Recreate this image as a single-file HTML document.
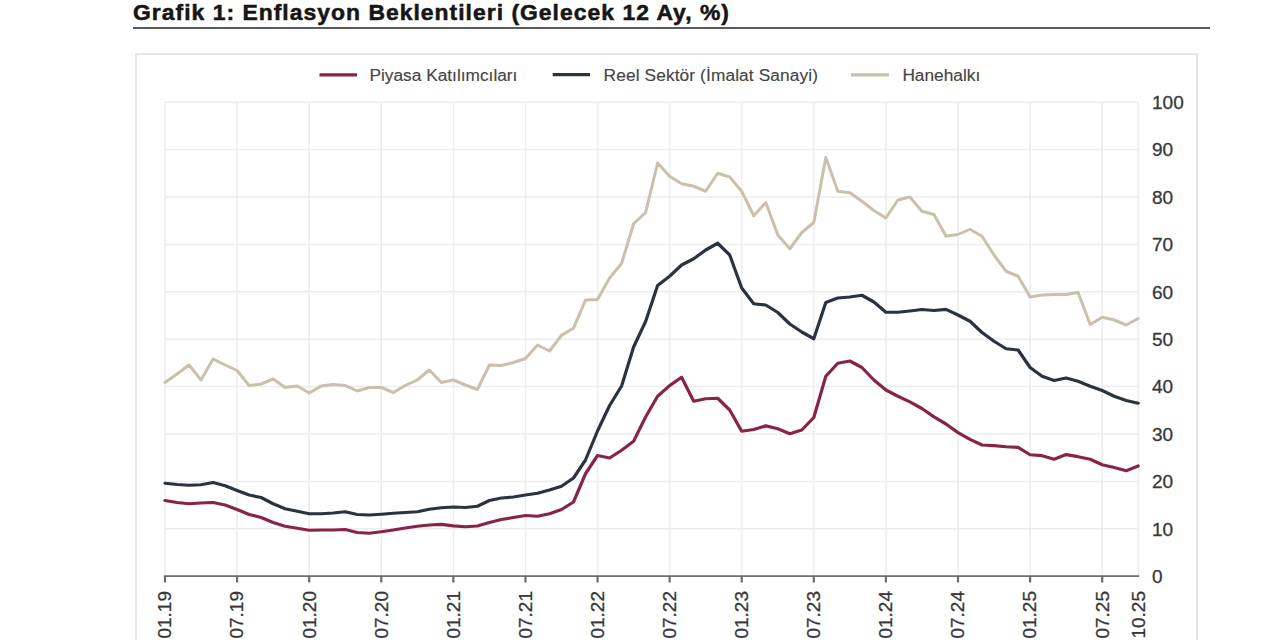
<!DOCTYPE html>
<html lang="tr"><head><meta charset="utf-8"><title>Grafik 1</title>
<style>
html,body{margin:0;padding:0;background:#fff;}
body{width:1280px;height:640px;overflow:hidden;position:relative;font-family:"Liberation Sans",Arial,sans-serif;}
.rule{position:absolute;left:133px;top:27px;width:1077px;height:2px;background:#5a5a5a;}
.box{position:absolute;left:135px;top:53px;width:1059px;height:640px;border:2px solid #e6e6e6;border-bottom:none;}
svg{position:absolute;left:0;top:0;}
.yl{font-size:19px;fill:#383838;stroke:#383838;stroke-width:0.3px;font-family:"Liberation Sans",Arial,sans-serif;}
.tt{font-size:22.9px;font-weight:bold;fill:#161616;stroke:#161616;stroke-width:0.55px;letter-spacing:1.02px;font-family:"Liberation Sans",Arial,sans-serif;}
.lg{font-size:17.3px;fill:#454545;stroke:#454545;stroke-width:0.15px;font-family:"Liberation Sans",Arial,sans-serif;}
.xl{font-size:19px;fill:#383838;stroke:#383838;stroke-width:0.3px;font-family:"Liberation Sans",Arial,sans-serif;}
</style></head><body>

<div class="rule"></div>
<div class="box"></div>

<svg width="1280" height="640" viewBox="0 0 1280 640">
<line x1="165.0" y1="528.8000000000001" x2="1138.7150000000001" y2="528.8000000000001" stroke="#ededed" stroke-width="1.5"/>
<line x1="165.0" y1="481.40000000000003" x2="1138.7150000000001" y2="481.40000000000003" stroke="#ededed" stroke-width="1.5"/>
<line x1="165.0" y1="434.0" x2="1138.7150000000001" y2="434.0" stroke="#ededed" stroke-width="1.5"/>
<line x1="165.0" y1="386.6" x2="1138.7150000000001" y2="386.6" stroke="#ededed" stroke-width="1.5"/>
<line x1="165.0" y1="339.20000000000005" x2="1138.7150000000001" y2="339.20000000000005" stroke="#ededed" stroke-width="1.5"/>
<line x1="165.0" y1="291.8" x2="1138.7150000000001" y2="291.8" stroke="#ededed" stroke-width="1.5"/>
<line x1="165.0" y1="244.40000000000003" x2="1138.7150000000001" y2="244.40000000000003" stroke="#ededed" stroke-width="1.5"/>
<line x1="165.0" y1="197.0" x2="1138.7150000000001" y2="197.0" stroke="#ededed" stroke-width="1.5"/>
<line x1="165.0" y1="149.60000000000002" x2="1138.7150000000001" y2="149.60000000000002" stroke="#ededed" stroke-width="1.5"/>
<line x1="165.0" y1="102.20000000000005" x2="1138.7150000000001" y2="102.20000000000005" stroke="#ededed" stroke-width="1.5"/>
<line x1="165.0" y1="102.20000000000005" x2="165.0" y2="576.2" stroke="#ededed" stroke-width="1.5"/>
<line x1="237.09" y1="102.20000000000005" x2="237.09" y2="576.2" stroke="#ededed" stroke-width="1.5"/>
<line x1="309.18" y1="102.20000000000005" x2="309.18" y2="576.2" stroke="#ededed" stroke-width="1.5"/>
<line x1="381.27" y1="102.20000000000005" x2="381.27" y2="576.2" stroke="#ededed" stroke-width="1.5"/>
<line x1="453.36" y1="102.20000000000005" x2="453.36" y2="576.2" stroke="#ededed" stroke-width="1.5"/>
<line x1="525.45" y1="102.20000000000005" x2="525.45" y2="576.2" stroke="#ededed" stroke-width="1.5"/>
<line x1="597.54" y1="102.20000000000005" x2="597.54" y2="576.2" stroke="#ededed" stroke-width="1.5"/>
<line x1="669.63" y1="102.20000000000005" x2="669.63" y2="576.2" stroke="#ededed" stroke-width="1.5"/>
<line x1="741.72" y1="102.20000000000005" x2="741.72" y2="576.2" stroke="#ededed" stroke-width="1.5"/>
<line x1="813.8100000000001" y1="102.20000000000005" x2="813.8100000000001" y2="576.2" stroke="#ededed" stroke-width="1.5"/>
<line x1="885.9000000000001" y1="102.20000000000005" x2="885.9000000000001" y2="576.2" stroke="#ededed" stroke-width="1.5"/>
<line x1="957.99" y1="102.20000000000005" x2="957.99" y2="576.2" stroke="#ededed" stroke-width="1.5"/>
<line x1="1030.08" y1="102.20000000000005" x2="1030.08" y2="576.2" stroke="#ededed" stroke-width="1.5"/>
<line x1="1102.17" y1="102.20000000000005" x2="1102.17" y2="576.2" stroke="#ededed" stroke-width="1.5"/>
<line x1="1138.2150000000001" y1="102.20000000000005" x2="1138.2150000000001" y2="576.2" stroke="#ededed" stroke-width="1.5"/>
<polyline points="165.0,382.50 177.0,374.00 189.0,365.00 201.0,380.00 213.1,359.00 225.1,365.00 237.1,370.50 249.1,385.50 261.1,384.00 273.1,379.00 285.1,387.50 297.2,386.00 309.2,393.00 321.2,386.00 333.2,384.50 345.2,385.50 357.2,391.00 369.3,387.50 381.3,387.50 393.3,392.50 405.3,385.50 417.3,380.00 429.3,370.00 441.3,382.50 453.4,380.00 465.4,385.00 477.4,389.50 489.4,365.00 501.4,365.50 513.4,362.50 525.5,358.50 537.5,345.00 549.5,351.00 561.5,335.30 573.5,328.20 585.5,300.00 597.5,299.50 609.6,278.00 621.6,263.50 633.6,223.75 645.6,212.50 657.6,163.00 669.6,176.25 681.6,183.75 693.7,186.25 705.7,191.25 717.7,173.25 729.7,177.00 741.7,191.25 753.7,215.75 765.8,202.50 777.8,235.00 789.8,248.75 801.8,232.50 813.8,222.50 825.8,157.50 837.8,191.25 849.9,192.75 861.9,201.25 873.9,210.50 885.9,218.00 897.9,200.00 909.9,197.00 921.9,211.25 934.0,214.50 946.0,236.25 958.0,234.50 970.0,229.25 982.0,236.25 994.0,255.00 1006.1,271.25 1018.1,276.25 1030.1,297.00 1042.1,295.00 1054.1,294.50 1066.1,294.50 1078.1,292.50 1090.2,324.50 1102.2,317.25 1114.2,320.00 1126.2,325.00 1138.2,318.50" fill="none" stroke="#cac0ab" stroke-width="3.0" stroke-linejoin="round" stroke-linecap="round"/>
<polyline points="165.0,483.25 177.0,484.50 189.0,485.25 201.0,484.75 213.1,482.50 225.1,485.75 237.1,490.50 249.1,495.00 261.1,497.50 273.1,503.75 285.1,508.75 297.2,511.25 309.2,513.75 321.2,513.75 333.2,513.00 345.2,511.75 357.2,514.50 369.3,515.00 381.3,514.25 393.3,513.25 405.3,512.50 417.3,511.75 429.3,509.25 441.3,507.75 453.4,507.00 465.4,507.50 477.4,506.25 489.4,500.50 501.4,498.00 513.4,497.00 525.5,495.00 537.5,493.25 549.5,490.00 561.5,486.25 573.5,478.00 585.5,460.00 597.5,431.00 609.6,405.50 621.6,386.00 633.6,347.00 645.6,321.50 657.6,285.50 669.6,276.25 681.6,265.00 693.7,258.75 705.7,250.00 717.7,243.25 729.7,255.00 741.7,288.00 753.7,303.75 765.8,305.00 777.8,312.50 789.8,324.00 801.8,332.00 813.8,338.75 825.8,302.50 837.8,298.00 849.9,297.00 861.9,295.25 873.9,302.00 885.9,312.25 897.9,312.25 909.9,311.00 921.9,309.50 934.0,310.50 946.0,309.40 958.0,315.00 970.0,321.25 982.0,332.50 994.0,341.25 1006.1,348.75 1018.1,350.00 1030.1,367.50 1042.1,376.25 1054.1,380.50 1066.1,378.00 1078.1,381.25 1090.2,386.25 1102.2,390.50 1114.2,396.25 1126.2,400.50 1138.2,403.20" fill="none" stroke="#2b3340" stroke-width="3.2" stroke-linejoin="round" stroke-linecap="round"/>
<polyline points="165.0,500.50 177.0,502.50 189.0,503.75 201.0,503.00 213.1,502.50 225.1,505.00 237.1,509.50 249.1,514.50 261.1,517.50 273.1,522.50 285.1,526.25 297.2,528.25 309.2,530.25 321.2,530.00 333.2,530.00 345.2,529.50 357.2,532.50 369.3,533.25 381.3,531.75 393.3,530.00 405.3,528.00 417.3,526.25 429.3,525.00 441.3,524.40 453.4,525.90 465.4,526.75 477.4,526.00 489.4,522.50 501.4,519.50 513.4,517.50 525.5,515.50 537.5,516.25 549.5,513.75 561.5,509.50 573.5,502.00 585.5,473.75 597.5,455.50 609.6,458.00 621.6,450.25 633.6,441.25 645.6,417.00 657.6,396.25 669.6,385.60 681.6,377.25 693.7,401.25 705.7,398.75 717.7,398.25 729.7,410.00 741.7,431.25 753.7,429.50 765.8,425.90 777.8,428.75 789.8,433.75 801.8,430.00 813.8,417.50 825.8,376.25 837.8,363.25 849.9,361.00 861.9,367.50 873.9,380.00 885.9,390.00 897.9,396.25 909.9,401.90 921.9,408.50 934.0,416.90 946.0,424.00 958.0,432.60 970.0,439.40 982.0,445.00 994.0,445.60 1006.1,446.75 1018.1,447.40 1030.1,454.75 1042.1,455.70 1054.1,459.20 1066.1,454.60 1078.1,456.70 1090.2,459.20 1102.2,464.70 1114.2,467.50 1126.2,470.70 1138.2,466.00" fill="none" stroke="#882447" stroke-width="3.2" stroke-linejoin="round" stroke-linecap="round"/>
<text x="133" y="20.4" class="tt">Grafik 1: Enflasyon Beklentileri (Gelecek 12 Ay, %)</text>
<line x1="319.5" y1="74.8" x2="357" y2="74.8" stroke="#882447" stroke-width="3.2"/>
<line x1="552.7" y1="74.7" x2="590" y2="74.7" stroke="#2b3340" stroke-width="3.2"/>
<line x1="851" y1="74.8" x2="889" y2="74.8" stroke="#cac0ab" stroke-width="3.2"/>
<text x="369.5" y="80.5" class="lg">Piyasa Katılımcıları</text>
<text x="603.6" y="80.5" class="lg" style="letter-spacing:0.12px">Reel Sektör (İmalat Sanayi)</text>
<text x="902.4" y="80.5" class="lg">Hanehalkı</text>
<line x1="163.7" y1="576.2" x2="1139.2150000000001" y2="576.2" stroke="#6e6e6e" stroke-width="1.8"/>
<line x1="165.0" y1="576.2" x2="165.0" y2="582.5" stroke="#6a6a6a" stroke-width="2.2"/>
<line x1="237.09" y1="576.2" x2="237.09" y2="582.5" stroke="#6a6a6a" stroke-width="2.2"/>
<line x1="309.18" y1="576.2" x2="309.18" y2="582.5" stroke="#6a6a6a" stroke-width="2.2"/>
<line x1="381.27" y1="576.2" x2="381.27" y2="582.5" stroke="#6a6a6a" stroke-width="2.2"/>
<line x1="453.36" y1="576.2" x2="453.36" y2="582.5" stroke="#6a6a6a" stroke-width="2.2"/>
<line x1="525.45" y1="576.2" x2="525.45" y2="582.5" stroke="#6a6a6a" stroke-width="2.2"/>
<line x1="597.54" y1="576.2" x2="597.54" y2="582.5" stroke="#6a6a6a" stroke-width="2.2"/>
<line x1="669.63" y1="576.2" x2="669.63" y2="582.5" stroke="#6a6a6a" stroke-width="2.2"/>
<line x1="741.72" y1="576.2" x2="741.72" y2="582.5" stroke="#6a6a6a" stroke-width="2.2"/>
<line x1="813.8100000000001" y1="576.2" x2="813.8100000000001" y2="582.5" stroke="#6a6a6a" stroke-width="2.2"/>
<line x1="885.9000000000001" y1="576.2" x2="885.9000000000001" y2="582.5" stroke="#6a6a6a" stroke-width="2.2"/>
<line x1="957.99" y1="576.2" x2="957.99" y2="582.5" stroke="#6a6a6a" stroke-width="2.2"/>
<line x1="1030.08" y1="576.2" x2="1030.08" y2="582.5" stroke="#6a6a6a" stroke-width="2.2"/>
<line x1="1102.17" y1="576.2" x2="1102.17" y2="582.5" stroke="#6a6a6a" stroke-width="2.2"/>
<text x="1152" y="583.0" class="yl">0</text>
<text x="1152" y="535.6" class="yl">10</text>
<text x="1152" y="488.2" class="yl">20</text>
<text x="1152" y="440.8" class="yl">30</text>
<text x="1152" y="393.4" class="yl">40</text>
<text x="1152" y="346.0" class="yl">50</text>
<text x="1152" y="298.6" class="yl">60</text>
<text x="1152" y="251.2" class="yl">70</text>
<text x="1152" y="203.8" class="yl">80</text>
<text x="1152" y="156.4" class="yl">90</text>
<text x="1152" y="109.0" class="yl">100</text>
<text transform="translate(171.3,591) rotate(-90)" text-anchor="end" class="xl">01.19</text>
<text transform="translate(243.4,591) rotate(-90)" text-anchor="end" class="xl">07.19</text>
<text transform="translate(315.5,591) rotate(-90)" text-anchor="end" class="xl">01.20</text>
<text transform="translate(387.6,591) rotate(-90)" text-anchor="end" class="xl">07.20</text>
<text transform="translate(459.7,591) rotate(-90)" text-anchor="end" class="xl">01.21</text>
<text transform="translate(531.8,591) rotate(-90)" text-anchor="end" class="xl">07.21</text>
<text transform="translate(603.8,591) rotate(-90)" text-anchor="end" class="xl">01.22</text>
<text transform="translate(675.9,591) rotate(-90)" text-anchor="end" class="xl">07.22</text>
<text transform="translate(748.0,591) rotate(-90)" text-anchor="end" class="xl">01.23</text>
<text transform="translate(820.1,591) rotate(-90)" text-anchor="end" class="xl">07.23</text>
<text transform="translate(892.2,591) rotate(-90)" text-anchor="end" class="xl">01.24</text>
<text transform="translate(964.3,591) rotate(-90)" text-anchor="end" class="xl">07.24</text>
<text transform="translate(1036.4,591) rotate(-90)" text-anchor="end" class="xl">01.25</text>
<text transform="translate(1108.5,591) rotate(-90)" text-anchor="end" class="xl">07.25</text>
<text transform="translate(1144.5,591) rotate(-90)" text-anchor="end" class="xl">10.25</text>
</svg>
</body></html>
